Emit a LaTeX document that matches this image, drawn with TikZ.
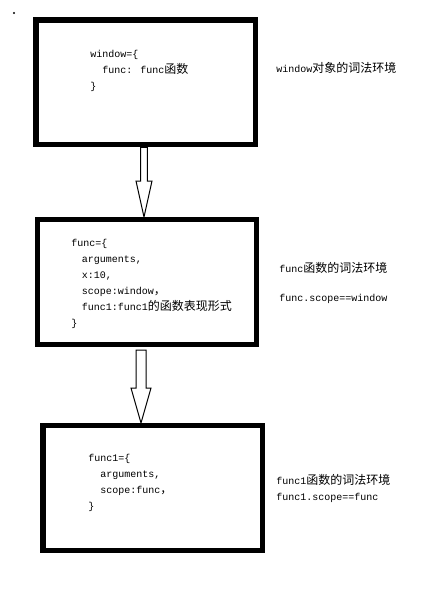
\documentclass[tikz,border=0pt]{standalone}
\usepackage{fontspec}
\setmainfont{Liberation Mono}
\newfontfamily\cjk{Noto Sans CJK SC}
\usetikzlibrary{calc, positioning}
\newcommand{\zh}[1]{{\cjk\fontsize{9}{12}\selectfont #1}}
\begin{document}
\begin{tikzpicture}[x=0.75pt, y=-0.75pt,
        env/.style={draw, line width=4.1pt, minimum width=164.6pt, minimum height=93.4pt, inner sep=0pt},
        code/.style={inner sep=0pt, align=left, anchor=west, font=\fontsize{7.5}{12}\selectfont},
        lbl/.style={inner sep=0pt, align=left, anchor=west, font=\fontsize{7.5}{12}\selectfont},
        hollow/.style={draw, fill=white, line width=0.75pt, line join=miter}]
        \useasboundingbox (0,0) rectangle (439,594);
        \fill (14,13) circle (0.9pt);

        % three lexical environments
        \node[env] (win) at (145.5,82.3) {};
        \node[env] (fn) at (147,282) {};
        \node[env] (fnone) at (152.5,488) {};

        \node[code] (wincode) at (90,71) {window=\{\\\hspace*{9pt}func: func\zh{函数}\\\}};
        \node[code] (fncode) at (71,284) {func=\{\\\hspace*{8pt}arguments,\\\hspace*{8pt}x:10,\\
            \hspace*{8pt}scope:window\zh{，}\\\hspace*{8pt}func1:func1\zh{的函数表现形式}\\\}};
        \node[code] (fnonecode) at (88,483) {func1=\{\\\hspace*{9pt}arguments,\\\hspace*{9pt}scope:func\zh{，}\\\}};

        \node[lbl] (winlbl) at (276,68) {window\zh{对象的词法环境}};
        \node[lbl] (fnlbl) at (279,268) {func\zh{函数的词法环境}};
        \node[lbl] (fnscope) at (279,299) {func.scope==window};
        \node[lbl] (fnonelbl) at (276,488) {func1\zh{函数的词法环境}\\func1.scope==func};

        % block arrows between the boxes
        \draw[hollow] let \p1=($(win.south)+(-1.5,0)$), \p2=($(fn.north)+(-3,0)$) in
            (\x2-2.5pt,\y1) -- (\x2-2.5pt,\y2+27pt) -- (\x2-6pt,\y2+27pt) -- (\p2)
            -- (\x2+6pt,\y2+27pt) -- (\x2+2.5pt,\y2+27pt) -- (\x2+2.5pt,\y1) -- cycle;
        \draw[hollow] let \p1=($(fn.south)+(-5.5,3)$), \p2=($(fnone.north)+(-11.5,0)$) in
            (\x2-3.75pt,\y1) -- (\x2-3.75pt,\y2+26.25pt) -- (\x2-7.5pt,\y2+26.25pt) -- (\p2)
            -- (\x2+7.5pt,\y2+26.25pt) -- (\x2+3.75pt,\y2+26.25pt) -- (\x2+3.75pt,\y1) -- cycle;
\end{tikzpicture}
\end{document}
